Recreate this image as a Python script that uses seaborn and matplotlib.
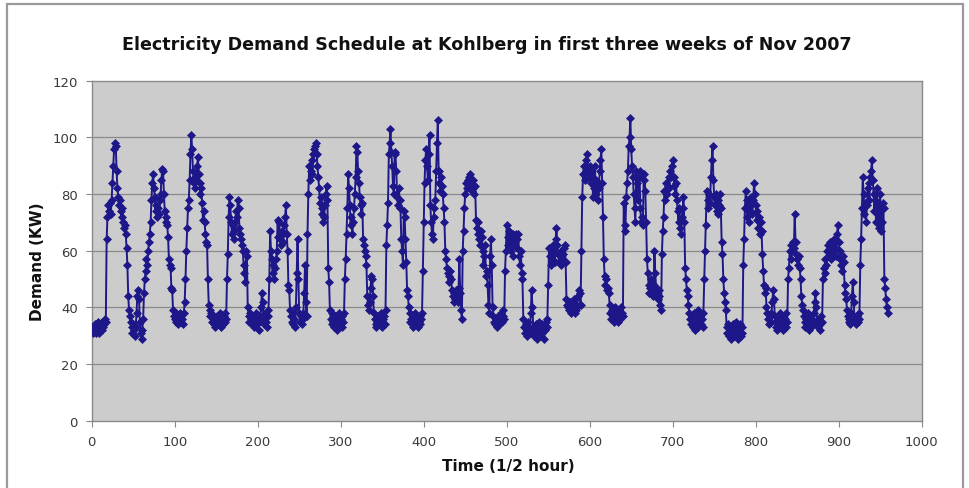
import numpy as np
import pandas as pd
import seaborn as sns
import matplotlib
matplotlib.use("Agg")
import matplotlib.pyplot as plt
from matplotlib.patches import Rectangle

# Half-hourly electricity demand (KW) at Kohlberg, Nov 2007
demand_kw = [
    32, 31, 33, 32, 34, 31, 33, 35, 32, 31, 34, 33, 32, 35, 33, 34, 36, 35,
    64, 72, 76, 74, 77, 73, 78, 84, 90, 96, 98, 97, 88, 82, 79, 76, 78, 74, 72, 75,
    70, 68, 69, 66, 61, 55, 44, 39, 37, 35,
    33, 31, 34, 32, 30, 33, 38, 44, 46, 43, 35, 31, 29, 32, 36, 45, 50, 53, 57, 55,
    60, 63, 66, 70, 78, 84, 87, 82, 79, 74, 76, 72, 75, 73, 78, 80, 85, 89, 88, 80,
    74, 70, 72, 69, 65, 57, 55, 54,
    47, 46, 39, 37, 36, 38, 35, 37, 34, 36, 38, 35, 37, 36, 34, 38, 42, 50, 60, 68,
    75, 78, 85, 94, 101, 96, 88, 84, 86, 82, 85, 90, 93, 87, 84, 80, 82, 77, 71, 74,
    70, 66, 63, 62, 50, 41, 39, 37,
    38, 35, 37, 34, 36, 33, 35, 37, 34, 36, 38, 35, 33, 36, 34, 37, 35, 38, 36,
    50, 59, 72, 79, 76, 70, 66, 69, 64, 67, 70, 74, 72, 78, 75, 68, 66, 64, 62, 60,
    55, 52, 49, 60, 58, 40, 37,
    35, 38, 36, 34, 37, 33, 36, 35, 38, 34, 36, 32, 35, 37, 40, 45, 42, 36, 34, 38,
    35, 33, 37, 39,
    50, 67, 60, 57, 52, 55, 50, 54, 57, 60, 71, 65, 70, 64, 62, 67, 63, 66, 69, 72,
    76, 66, 60, 48, 46, 39,
    37, 35, 38, 34, 36, 33, 40, 52, 64, 50, 38, 35, 37, 34, 36, 38, 45, 55, 42, 37,
    66, 80, 90, 85, 88, 92, 87, 94, 96, 97, 98, 94, 90, 86, 82, 77, 79, 73, 75, 70,
    72, 76, 80, 83, 78, 54, 49, 39,
    36, 34, 38, 35, 33, 37, 34, 36, 32, 35, 38, 34, 36, 33, 37, 35, 38,
    50, 57, 66, 75, 87, 82, 76, 69, 72, 66, 70, 75, 80, 86, 97, 95, 88, 84, 79, 76,
    73, 77, 64, 62, 60, 58, 55,
    44, 41, 39, 42, 47, 51, 50, 44, 38, 36, 34, 33, 35, 37, 34, 36, 38, 35, 33, 36,
    37, 34, 39,
    62, 69, 77, 94, 98, 103, 95, 90, 83, 80, 95, 94, 88, 79, 76, 82, 78, 75, 64, 60,
    55, 74, 72, 64, 56, 46,
    44, 40, 38, 35, 36, 34, 33, 37, 35, 38, 34, 36, 33, 35, 37, 34, 36, 38,
    53, 70, 84, 92, 96, 90, 85, 94, 101, 76, 70, 66, 64, 72, 75, 78, 88, 98, 106, 88,
    84, 81, 86, 83, 80, 75, 70, 60, 57, 54, 52, 49, 51, 53, 50, 46, 44, 42, 45, 43,
    46, 44, 42, 47, 57, 45, 39, 36,
    60, 67, 75, 80, 84, 82, 85, 83, 86, 87, 84, 81, 85, 82, 80, 83, 71, 68, 66, 70,
    64, 62, 67, 65, 60, 55, 58, 62, 51, 53, 48, 41,
    38, 58, 64, 55, 40, 37, 35, 34, 36, 33, 35, 37, 34, 36, 38, 35, 37, 39, 36,
    53, 60, 69, 65, 62, 67, 64, 60, 62, 58, 66, 63, 65, 66, 61, 64, 66, 58, 55, 60,
    52, 50,
    36, 33, 31, 34, 30, 32, 35, 33, 31, 38, 46, 40, 33, 30, 32, 34, 31, 29, 33, 35,
    32, 30, 34, 31, 33, 29, 32, 35, 33, 36,
    48, 61, 58, 55, 59, 57, 62, 60, 56, 64, 68, 62, 59, 56, 58, 60, 55, 57, 59, 61,
    62, 56, 43, 41,
    40, 39, 42, 38, 41, 39, 40, 43, 38, 39, 41, 40, 44, 46, 45, 41,
    60, 79, 87, 90, 85, 88, 92, 94, 89, 86, 90, 88, 84, 86, 79, 82, 90, 85, 80, 84,
    78, 82, 88, 92, 96, 84, 72, 57, 51, 48, 50, 46, 47, 45,
    41, 38, 36, 39, 37, 35, 38, 40, 36, 37, 35, 39, 38, 36, 40, 38, 37,
    77, 69, 67, 79, 84, 88, 97, 100, 107, 96, 90, 86, 80, 75, 70, 88, 84, 78, 86, 88,
    75, 70, 72, 69, 85, 87, 81, 70, 57, 52, 48, 45, 47, 50, 46, 44, 48, 60, 52, 47,
    45, 43, 46, 44, 41, 39,
    59, 67, 72, 81, 78, 84, 80, 83, 86, 82, 88, 86, 90, 92, 86, 83, 80, 84, 78, 74,
    70, 75, 68, 66, 72, 75, 79, 70, 54, 50, 46, 44,
    41, 38, 36, 34, 37, 33, 35, 38, 32, 36, 34, 39, 33, 35, 37, 34, 36, 33, 38,
    50, 60, 69, 81, 78, 75, 80, 77, 86, 92, 97, 85, 79, 76, 80, 74, 78, 73, 76, 80,
    75, 63, 59, 50, 45, 42, 39,
    33, 31, 34, 30, 32, 29, 33, 31, 34, 30, 32, 35, 31, 33, 29, 32, 34, 30, 33, 31,
    55, 64, 75, 81, 78, 72, 76, 70, 74, 79, 77, 73, 78, 84, 80, 76, 71, 74, 68, 72,
    66, 70, 67, 59, 53, 48, 45, 47,
    40, 38, 36, 34, 37, 35, 38, 42, 46, 43, 37, 33, 35, 32, 36, 34, 38, 33, 35, 37,
    32, 34, 36, 33, 38, 35,
    50, 54, 60, 57, 62, 60, 63, 61, 73, 63, 59, 57, 55, 58, 54, 50, 44, 41,
    39, 37, 35, 33, 36, 34, 38, 32, 35, 37, 33, 36, 34, 38, 42, 45, 40, 35, 33, 36,
    34, 32, 37, 35,
    50, 54, 52, 57, 55, 60, 62, 58, 63, 60, 57, 62, 59, 64, 61, 63, 58, 66, 69, 63,
    60, 57, 55, 53, 58, 56, 48, 45, 43,
    39, 37, 35, 36, 34, 38, 44, 49, 42, 36, 35, 34, 37, 35, 36, 38,
    55, 64, 75, 86, 80, 73, 77, 70, 76, 82, 84, 78, 86, 88, 92, 85, 80, 74, 78, 70,
    82, 76, 68, 72, 80, 67, 70, 77, 75, 50, 47, 43, 40, 38,
]

y_ticks = [0, 20, 40, 60, 80, 100, 120]
x_ticks = [0, 100, 200, 300, 400, 500, 600, 700, 800, 900, 1000]

title_text = "Electricity Demand Schedule at Kohlberg in first three weeks of Nov 2007"
x_label = "Time (1/2 hour)"
y_label = "Demand (KW)"

df = pd.DataFrame({"time": np.arange(len(demand_kw)), "demand": demand_kw})

W, H = 969, 489
fig = plt.figure(figsize=(W / 100, H / 100), dpi=100, facecolor="white")

# Plot area in pixel coordinates
left, right, top, bottom = 91.7, 921.7, 81.7, 421.7
ax = fig.add_axes([left / W, 1 - bottom / H, (right - left) / W, (bottom - top) / H])
ax.set_facecolor("#cccccc")

navy = "#1e178a"
sns.lineplot(data=df, x="time", y="demand", ax=ax, color=navy,
             linewidth=1.4, marker="D", markersize=3.8, markeredgewidth=0.5,
             markeredgecolor=navy, zorder=3)

ax.set_xlim(0, 1000)
ax.set_ylim(0, 120)
ax.set_xticks(x_ticks)
ax.set_yticks(y_ticks)
ax.set_xticklabels([str(v) for v in x_ticks])
ax.set_yticklabels([str(v) for v in y_ticks])
ax.tick_params(axis="both", direction="out", length=4, width=0.8, color="#888888",
               labelsize=9.5, labelcolor="#3a3a3a")
ax.tick_params(axis="x", pad=6)
ax.tick_params(axis="y", pad=6)

for v in y_ticks[1:-1]:
    ax.axhline(v, color="#8a8a8a", linewidth=0.9, zorder=1)

for side in ["left", "bottom", "top", "right"]:
    ax.spines[side].set_color("#8a8a8a")
    ax.spines[side].set_linewidth(1.0)

ax.set_xlabel("")
ax.set_ylabel("")

fig.text(487 / W, 1 - 45 / H, title_text, ha="center", va="center",
         fontsize=12.6, fontweight="bold", color="#111111")
fig.text(508 / W, 1 - 467 / H, x_label, ha="center", va="center",
         fontsize=11, fontweight="bold", color="#111111")
fig.text(37 / W, 1 - 262 / H, y_label, ha="center", va="center", rotation=90,
         fontsize=11, fontweight="bold", color="#111111")

# Chart-area frame
frame = Rectangle((7 / W, -0.05), (963 - 7) / W, 1.05 - 5 / H, transform=fig.transFigure,
                  fill=False, edgecolor="#9a9a9a", linewidth=1.6)
fig.patches.append(frame)

fig.savefig("out.png", dpi=100, facecolor="white")
